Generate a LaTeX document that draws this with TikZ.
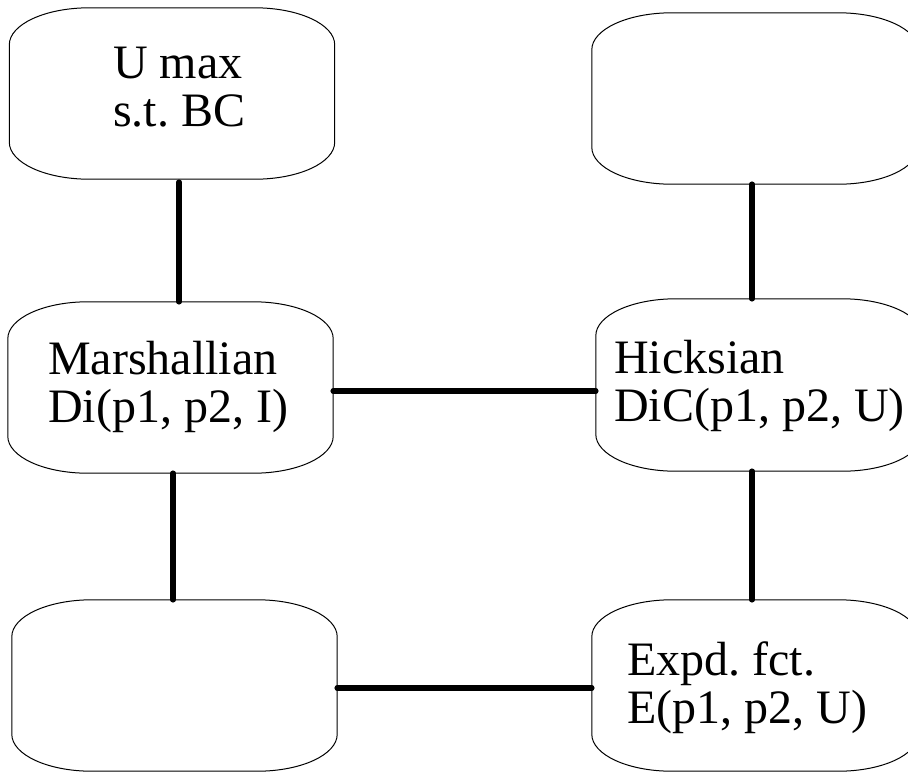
\documentclass[tikz,border=0pt]{standalone}
\usepackage{fontspec}
\setmainfont{Liberation Serif}
\usetikzlibrary{calc}

% outline with elliptical corners around a (borderless) box node
\newcommand\ovalframe[1]{%
  \draw[frame] ([xshift=80pt]#1.north west) -- ([xshift=-80pt]#1.north east)
    arc[start angle=90, end angle=0, x radius=80pt, y radius=37pt]
    -- ([yshift=37pt]#1.south east)
    arc[start angle=0, end angle=-90, x radius=80pt, y radius=37pt]
    -- ([xshift=80pt]#1.south west)
    arc[start angle=270, end angle=180, x radius=80pt, y radius=37pt]
    -- ([yshift=-37pt]#1.north west)
    arc[start angle=180, end angle=90, x radius=80pt, y radius=37pt]
    -- cycle;}

\begin{document}
\begin{tikzpicture}[x=1pt, y=-1pt,
  box/.style={rectangle, draw=none, inner sep=0pt, minimum width=325pt, minimum height=171pt},
  frame/.style={draw=black, line width=1pt},
  link/.style={draw=black, line width=5.5pt, line cap=round},
  lbl/.style={anchor=base west, inner sep=0pt, font=\fontsize{48}{48}\selectfont}]

  \useasboundingbox (0,0) rectangle (908,772);
  \clip (0,0) rectangle (908,772);

  % boxes
  \node[box] (tl) at (172,93.5) {};
  \node[box, minimum width=326pt] (tr) at (755,98.5) {};
  \node[box] (ml) at (170.5,387.5) {};
  \node[box, minimum width=326pt, minimum height=172pt] (mr) at (759,385) {};
  \node[box] (bl) at (174.5,685.5) {};
  \node[box, minimum width=326pt] (br) at (755,685.5) {};

  \foreach \b in {tl,tr,ml,mr,bl,br} {\ovalframe{\b}}

  % labels
  \node[lbl] (tltext) at (113,78)
    {\begin{tabular}[t]{@{}l@{}}U max\\s.t.\ BC\end{tabular}};
  \node[lbl] (mltext) at (48,374)
    {\begin{tabular}[t]{@{}l@{}}Marshallian\\Di(p1, p2, I)\end{tabular}};
  \node[lbl] (mrtext) at (614,373)
    {\begin{tabular}[t]{@{}l@{}}Hicksian\\DiC(p1, p2, U)\end{tabular}};
  \node[lbl] (brtext) at (627,675)
    {\begin{tabular}[t]{@{}l@{}}Expd.\ fct.\\E(p1, p2, U)\end{tabular}};

  % connectors
  \draw[link] ([xshift=7pt, yshift=-3pt]tl.south) -- ([xshift=7pt]tl.south |- ml.north);
  \draw[link] ([xshift=-3pt]tr.south) -- ([xshift=-3pt]tr.south |- mr.north);
  \draw[link] ([yshift=-3.5pt]ml.east) -- ([yshift=-3.5pt]ml.east -| mr.west);
  \draw[link] ([xshift=2.5pt]ml.south) -- ([xshift=2.5pt]ml.south |- bl.north);
  \draw[link] ([xshift=-7pt]mr.south) -- ([xshift=-7pt]mr.south |- br.north);
  \draw[link] ([yshift=-2.5pt]bl.east) -- ([yshift=-2.5pt]bl.east -| br.west);
\end{tikzpicture}
\end{document}
